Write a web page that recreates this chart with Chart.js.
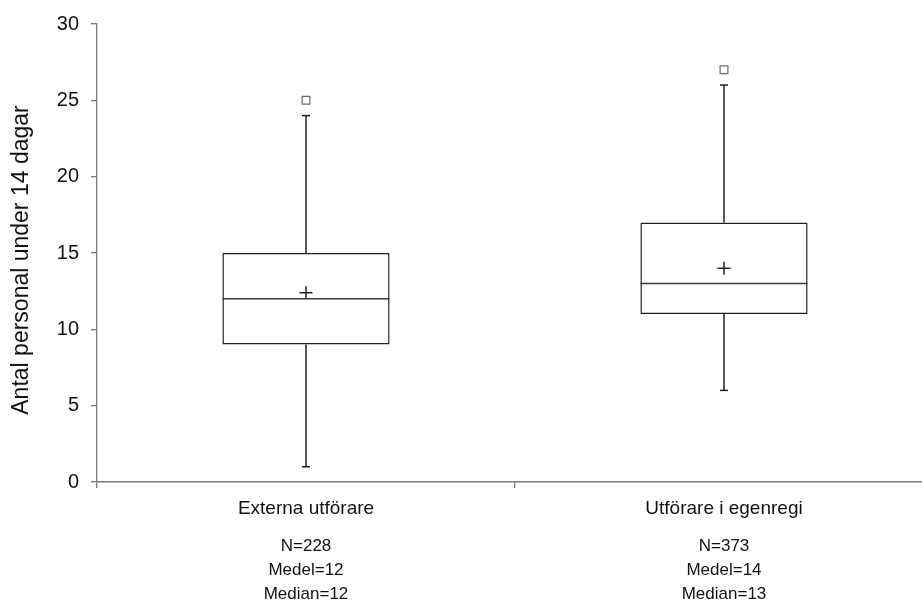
<!DOCTYPE html>
<html>
<head>
<meta charset="utf-8">
<script src="https://cdn.jsdelivr.net/npm/chart.js@4.4.1/dist/chart.umd.min.js"></script>
<style>
  html, body { margin: 0; padding: 0; background: #fff; overflow: hidden; }
  #wrap { position: relative; width: 941px; height: 603px; }
</style>
</head>
<body>
<div id="wrap"><canvas id="c"></canvas></div>
<script>
// Box plot data: staff count over 14 days, by type of provider
const categories = ['Externa utförare', 'Utförare i egenregi'];
const counts = [228, 373];
const lowerWhisker = [1, 6];
const q1 = [9, 11];
const medians = [12, 13];
const q3 = [15, 17];
const upperWhisker = [24, 26];
const means = [12.4, 14];
const outliers = [25, 27];
const yTicks = [0, 5, 10, 15, 20, 25, 30];
const yTitle = 'Antal personal under 14 dagar';

const FONT = "'Liberation Sans', Arial, Helvetica, sans-serif";
const AXIS_GREY = '#7a7a7a';
const INK = '#222222';

// Summary lines printed under each group
const statLabels = categories.map((c, i) => [
  'N=' + counts[i],
  'Medel=' + Math.round(means[i]),
  'Median=' + medians[i]
]);

// Whiskers, caps and median lines, placed with the chart's own scales
const boxPlotLines = {
  id: 'boxPlotLines',
  afterDatasetsDraw(chart) {
    const { ctx, scales: { x, y } } = chart;
    const boxes = chart.getDatasetMeta(0).data;
    ctx.save();
    ctx.strokeStyle = INK;
    ctx.lineWidth = 1.5;
    const seg = (x1, y1, x2, y2) => {
      ctx.beginPath(); ctx.moveTo(x1, y1); ctx.lineTo(x2, y2); ctx.stroke();
    };
    categories.forEach((c, i) => {
      const cx = x.getPixelForValue(i);
      const half = boxes[i].width / 2;
      const capHalf = 4;
      const yHi = y.getPixelForValue(upperWhisker[i]);
      const yLo = y.getPixelForValue(lowerWhisker[i]);
      seg(cx, y.getPixelForValue(q3[i]), cx, yHi);
      seg(cx, y.getPixelForValue(q1[i]), cx, yLo);
      seg(cx - capHalf, yHi, cx + capHalf, yHi);
      seg(cx - capHalf, yLo, cx + capHalf, yLo);
      ctx.save();
      ctx.strokeStyle = '#3a3a3a';
      const ym = y.getPixelForValue(medians[i]);
      seg(cx - half, ym, cx + half, ym);
      ctx.restore();
    });
    ctx.restore();
  },
  afterDraw(chart) {
    // Rotated y-axis title
    const { ctx } = chart;
    ctx.save();
    ctx.translate(22, 260);
    ctx.rotate(-Math.PI / 2);
    ctx.font = '23px ' + FONT;
    ctx.fillStyle = '#111';
    ctx.textAlign = 'center';
    ctx.textBaseline = 'middle';
    ctx.fillText(yTitle, 0, 0);
    ctx.restore();
  }
};

new Chart(document.getElementById('c'), {
  data: {
    labels: categories,
    datasets: [
      {
        type: 'bar',
        label: 'Kvartiler',
        data: categories.map((c, i) => [q1[i], q3[i]]),
        backgroundColor: '#ffffff',
        borderColor: INK,
        borderWidth: 1.5,
        borderSkipped: false,
        barPercentage: 0.4,
        categoryPercentage: 1,
        order: 3
      },
      {
        type: 'line',
        label: 'Medel',
        data: means,
        showLine: false,
        pointStyle: 'cross',
        pointRadius: 6.5,
        pointBorderWidth: 1.5,
        pointBorderColor: INK,
        order: 1
      },
      {
        type: 'line',
        label: 'Extremvärden',
        data: outliers,
        showLine: false,
        pointStyle: 'rect',
        pointRadius: 5.5,
        pointBorderWidth: 1.2,
        pointBorderColor: '#6a6a6a',
        pointBackgroundColor: '#ffffff',
        order: 2
      }
    ]
  },
  options: {
    responsive: true,
    maintainAspectRatio: false,
    animation: false,
    layout: { padding: { top: 22, left: 0, right: 0, bottom: 0 } },
    plugins: { legend: { display: false }, tooltip: { enabled: false } },
    scales: {
      y: {
        type: 'linear',
        min: 0,
        max: 30,
        afterBuildTicks: s => { s.ticks = yTicks.map(v => ({ value: v })); },
        afterFit: s => { s.width = 97; },
        border: { color: AXIS_GREY, width: 1.3 },
        grid: { drawOnChartArea: false, tickLength: 6, color: AXIS_GREY, lineWidth: 1.3 },
        ticks: { padding: 12, color: '#111', font: { family: FONT, size: 20 } }
      },
      x: {
        type: 'category',
        position: 'bottom',
        weight: 1,
        offset: true,
        afterFit: s => { s.height = 40; },
        border: { color: AXIS_GREY, width: 1.6 },
        grid: { offset: true, drawOnChartArea: false, tickLength: 6, color: AXIS_GREY, lineWidth: 1.3 },
        ticks: { padding: 9, color: '#111', maxRotation: 0, font: { family: FONT, size: 19 } }
      },
      x2: {
        type: 'category',
        position: 'bottom',
        weight: 2,
        offset: true,
        labels: statLabels,
        afterFit: s => { s.height = 81; },
        border: { display: false },
        grid: { display: false, drawTicks: false },
        ticks: { padding: 12, color: '#111', maxRotation: 0, font: { family: FONT, size: 17, lineHeight: 24 / 17 } }
      }
    }
  },
  plugins: [boxPlotLines]
});
</script>
</body>
</html>
